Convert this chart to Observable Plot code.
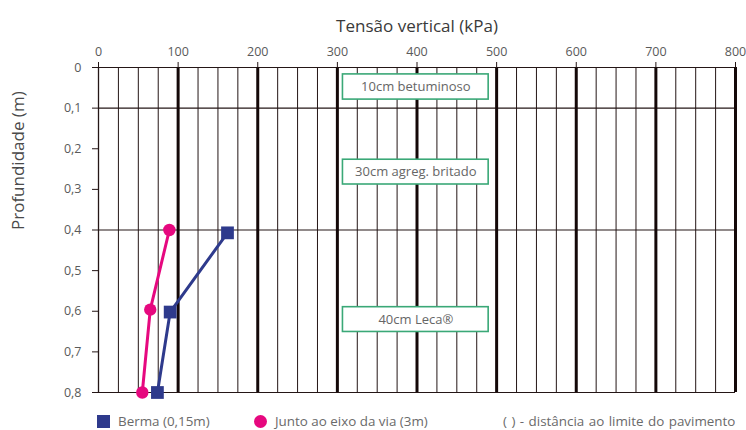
<!DOCTYPE html>
<html>
<head>
<meta charset="utf-8">
<script src="https://cdn.jsdelivr.net/npm/d3@7"></script>
<script src="https://cdn.jsdelivr.net/npm/@observablehq/plot@0.6"></script>
<style>
  html, body { margin: 0; padding: 0; background: #fff; }
  #wrap { position: relative; width: 746px; height: 430px; font-family: "Open Sans", sans-serif; }
  #legend { position: absolute; left: 0; top: 412px; width: 746px; height: 18px; font-size: 13.4px; color: #6a6a6a; }
  .item { position: absolute; top: 0; display: flex; align-items: center; height: 18px; white-space: nowrap; }
  .sw { display: inline-block; margin-right: 8px; }
</style>
</head>
<body>
<div id="wrap"></div>
<script>
// Data
const tensaoTicks = [0, 100, 200, 300, 400, 500, 600, 700, 800];
const profTicks = [0, 0.1, 0.2, 0.3, 0.4, 0.5, 0.6, 0.7, 0.8];
const layerBoundaries = [0, 0.1, 0.4, 0.8];

const bermaTensao = [162, 90, 74];
const bermaProf = [0.407, 0.602, 0.80];
const juntoTensao = [89, 65, 55];
const juntoProf = [0.40, 0.596, 0.80];

const layerLabels = ["10cm betuminoso", "30cm agreg. britado", "40cm Leca®"];
const layerBoxTop = [0.017, 0.227, 0.59];
const layerBoxBottom = [0.079, 0.288, 0.651];
const layerBoxLeft = 307;
const layerBoxRight = 490;

const legendLabels = ["Berma (0,15m)", "Junto ao eixo da via (3m)", "(\u2009\u2009) - distância ao limite do pavimento"];

const blue = "#2e3a8c";
const pink = "#e6087f";
const gridColor = "#241616";

const berma = bermaTensao.map((x, i) => ({x, y: bermaProf[i]}));
const junto = juntoTensao.map((x, i) => ({x, y: juntoProf[i]}));
const layers = layerLabels.map((label, i) => ({label, top: layerBoxTop[i], bottom: layerBoxBottom[i]}));

const minor = d3.range(25, 800, 25).filter(v => v % 100 !== 0);
const major = tensaoTicks.filter(v => v > 0);

const fmt = d => d === 0 ? "0" : d3.format(".1f")(d).replace(".", ",");

const chart = Plot.plot({
  width: 746,
  height: 430,
  marginLeft: 98,
  marginRight: 11,
  marginTop: 67,
  marginBottom: 38,
  style: {fontFamily: "'Open Sans', sans-serif", fontSize: "12.5px", color: "#5a5a5a", background: "#fff"},
  x: {domain: [0, 800]},
  y: {domain: [0, 0.8], reverse: true},
  marks: [
    Plot.ruleX(minor, {stroke: gridColor, strokeWidth: 1}),
    Plot.ruleX([0], {stroke: gridColor, strokeWidth: 1.3}),
    Plot.ruleY(layerBoundaries, {stroke: gridColor, strokeWidth: 1.1}),
    Plot.ruleX(major, {stroke: "#140808", strokeWidth: 3}),
    Plot.axisX({
      anchor: "top", ticks: tensaoTicks, tickSize: 6, tickPadding: 6,
      stroke: gridColor, fill: "#5a5a5a", fontSize: 12.5,
      label: null
    }),
    Plot.axisY({
      anchor: "left", ticks: profTicks, tickSize: 6, tickPadding: 11,
      tickFormat: fmt, stroke: gridColor, fill: "#5a5a5a", fontSize: 12.5,
      label: null
    }),
    Plot.text(["Tensão vertical (kPa)"], {frameAnchor: "top", dy: -48, fontSize: 17, fill: "#3a3a3a"}),
    Plot.text(["Profundidade (m)"], {frameAnchor: "left", dx: -80, rotate: -90, fontSize: 17, fill: "#4a4a4a"}),
    Plot.rect(layers, {x1: () => layerBoxLeft, x2: () => layerBoxRight, y1: "top", y2: "bottom", fill: "#fff", stroke: "#3aa877", strokeWidth: 1.6}),
    Plot.text(layers, {x: () => (layerBoxLeft + layerBoxRight) / 2, y: d => (d.top + d.bottom) / 2, text: "label", fill: "#666", fontSize: 13}),
    Plot.line(berma, {x: "x", y: "y", stroke: blue, strokeWidth: 3}),
    Plot.line(junto, {x: "x", y: "y", stroke: pink, strokeWidth: 3}),
    Plot.dot(berma, {x: "x", y: "y", symbol: "square", r: 7.2, fill: blue}),
    Plot.dot(junto, {x: "x", y: "y", symbol: "circle", r: 6.2, fill: pink})
  ]
});

const wrap = document.getElementById("wrap");
wrap.appendChild(chart);

const legend = document.createElement("div");
legend.id = "legend";
legend.innerHTML = `
  <div class="item" style="left:97px"><span class="sw" style="width:13px;height:13px;background:${blue}"></span>${legendLabels[0]}</div>
  <div class="item" style="left:254px"><span class="sw" style="width:13px;height:13px;border-radius:50%;background:${pink}"></span>${legendLabels[1]}</div>
  <div class="item" style="left:503px;word-spacing:1px">${legendLabels[2]}</div>`;
wrap.appendChild(legend);
</script>
</body>
</html>
